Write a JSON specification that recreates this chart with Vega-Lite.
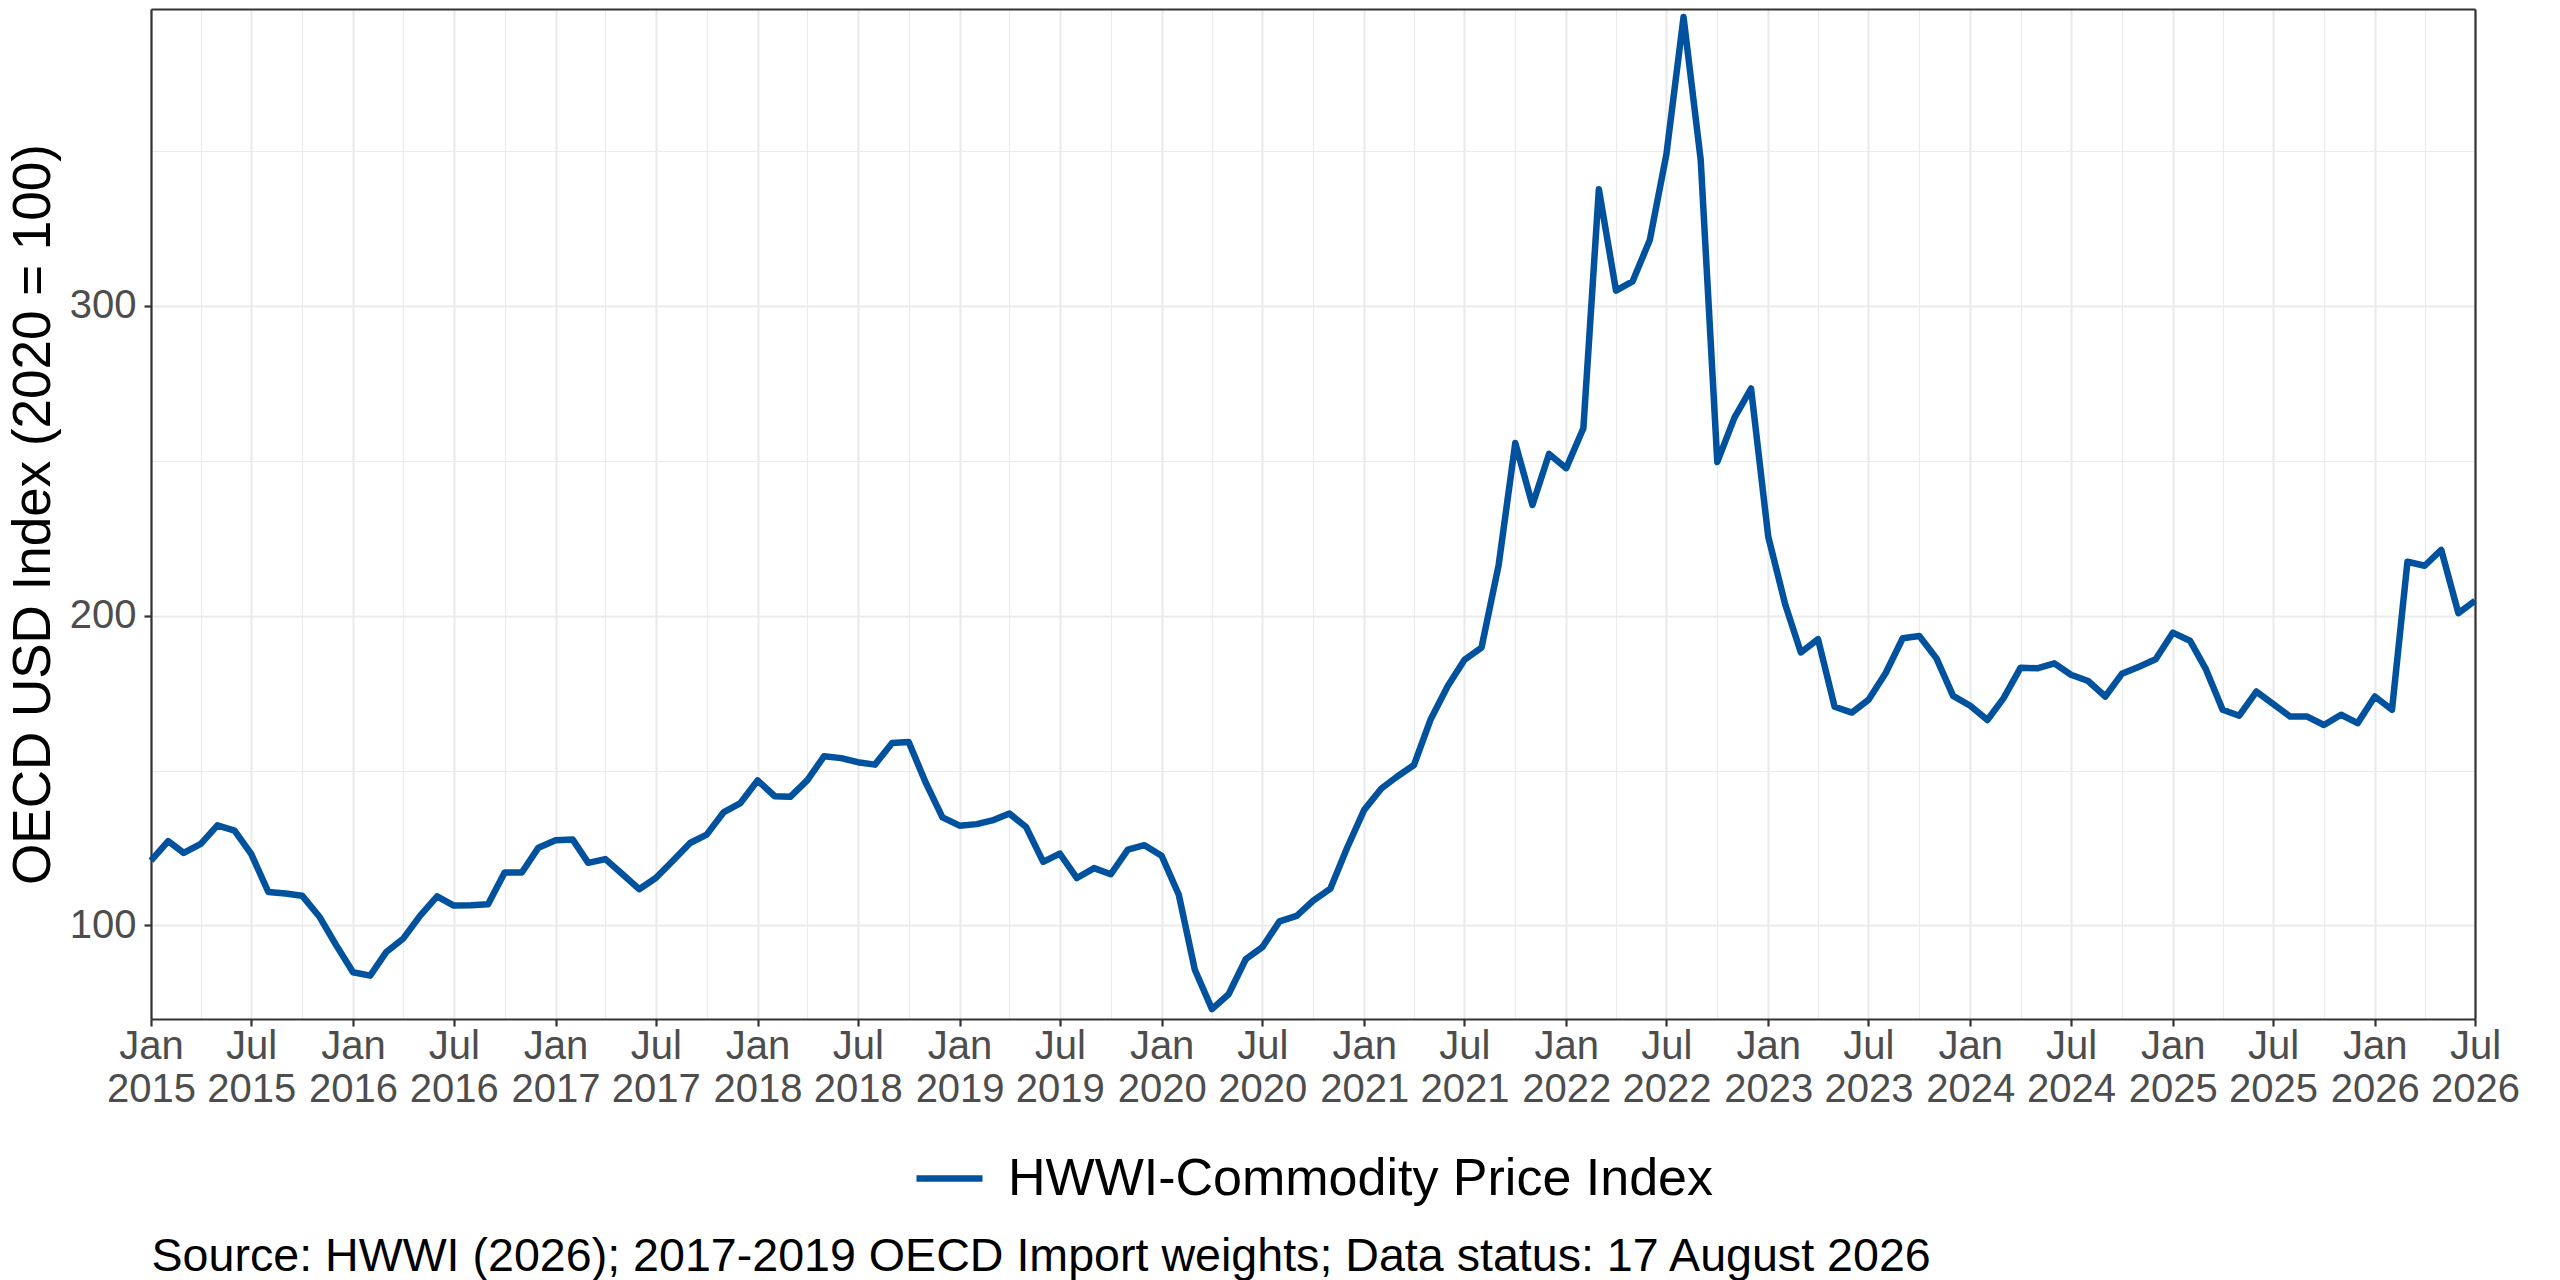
{
  "$schema": "https://vega.github.io/schema/vega-lite/v6.json",
  "width": 2324,
  "height": 1010,
  "autosize": {"type": "none"},
  "padding": {"left": 151, "top": 9, "right": 85, "bottom": 261},
  "background": "white",
  "config": {
    "view": {"stroke": null},
    "font": "Liberation Sans"
  },
  "data": {
    "values": [
      {"date": "2015-01-01", "value": 120.9}, {"date": "2015-02-01", "value": 127.2}, {"date": "2015-03-01", "value": 123.4},
      {"date": "2015-04-01", "value": 126.3}, {"date": "2015-05-01", "value": 132.3}, {"date": "2015-06-01", "value": 130.6},
      {"date": "2015-07-01", "value": 123.1}, {"date": "2015-08-01", "value": 110.8}, {"date": "2015-09-01", "value": 110.3},
      {"date": "2015-10-01", "value": 109.6}, {"date": "2015-11-01", "value": 102.9}, {"date": "2015-12-01", "value": 93.8},
      {"date": "2016-01-01", "value": 84.9}, {"date": "2016-02-01", "value": 83.8}, {"date": "2016-03-01", "value": 91.4},
      {"date": "2016-04-01", "value": 95.8}, {"date": "2016-05-01", "value": 103.1}, {"date": "2016-06-01", "value": 109.4},
      {"date": "2016-07-01", "value": 106.4}, {"date": "2016-08-01", "value": 106.5}, {"date": "2016-09-01", "value": 106.8},
      {"date": "2016-10-01", "value": 117.1}, {"date": "2016-11-01", "value": 117.1}, {"date": "2016-12-01", "value": 125.1},
      {"date": "2017-01-01", "value": 127.5}, {"date": "2017-02-01", "value": 127.7}, {"date": "2017-03-01", "value": 120.2},
      {"date": "2017-04-01", "value": 121.4}, {"date": "2017-05-01", "value": 116.7}, {"date": "2017-06-01", "value": 111.7},
      {"date": "2017-07-01", "value": 115.3}, {"date": "2017-08-01", "value": 120.9}, {"date": "2017-09-01", "value": 126.6},
      {"date": "2017-10-01", "value": 129.3}, {"date": "2017-11-01", "value": 136.6}, {"date": "2017-12-01", "value": 139.5},
      {"date": "2018-01-01", "value": 146.8}, {"date": "2018-02-01", "value": 141.7}, {"date": "2018-03-01", "value": 141.5},
      {"date": "2018-04-01", "value": 146.9}, {"date": "2018-05-01", "value": 154.6}, {"date": "2018-06-01", "value": 154.0},
      {"date": "2018-07-01", "value": 152.7}, {"date": "2018-08-01", "value": 151.9}, {"date": "2018-09-01", "value": 158.9},
      {"date": "2018-10-01", "value": 159.2}, {"date": "2018-11-01", "value": 146.0}, {"date": "2018-12-01", "value": 134.9},
      {"date": "2019-01-01", "value": 132.2}, {"date": "2019-02-01", "value": 132.7}, {"date": "2019-03-01", "value": 133.9},
      {"date": "2019-04-01", "value": 136.1}, {"date": "2019-05-01", "value": 131.8}, {"date": "2019-06-01", "value": 120.5},
      {"date": "2019-07-01", "value": 123.2}, {"date": "2019-08-01", "value": 115.3}, {"date": "2019-09-01", "value": 118.5},
      {"date": "2019-10-01", "value": 116.5}, {"date": "2019-11-01", "value": 124.5}, {"date": "2019-12-01", "value": 125.9},
      {"date": "2020-01-01", "value": 122.5}, {"date": "2020-02-01", "value": 109.9}, {"date": "2020-03-01", "value": 85.7},
      {"date": "2020-04-01", "value": 73.0}, {"date": "2020-05-01", "value": 77.8}, {"date": "2020-06-01", "value": 89.1},
      {"date": "2020-07-01", "value": 93.0}, {"date": "2020-08-01", "value": 101.3}, {"date": "2020-09-01", "value": 103.1},
      {"date": "2020-10-01", "value": 108.0}, {"date": "2020-11-01", "value": 111.9}, {"date": "2020-12-01", "value": 125.0},
      {"date": "2021-01-01", "value": 137.3}, {"date": "2021-02-01", "value": 144.2}, {"date": "2021-03-01", "value": 148.0},
      {"date": "2021-04-01", "value": 151.8}, {"date": "2021-05-01", "value": 166.5}, {"date": "2021-06-01", "value": 177.3},
      {"date": "2021-07-01", "value": 185.7}, {"date": "2021-08-01", "value": 189.7}, {"date": "2021-09-01", "value": 216.4},
      {"date": "2021-10-01", "value": 255.7}, {"date": "2021-11-01", "value": 235.7}, {"date": "2021-12-01", "value": 252.2},
      {"date": "2022-01-01", "value": 247.6}, {"date": "2022-02-01", "value": 260.5}, {"date": "2022-03-01", "value": 337.6},
      {"date": "2022-04-01", "value": 304.9}, {"date": "2022-05-01", "value": 307.9}, {"date": "2022-06-01", "value": 321.2},
      {"date": "2022-07-01", "value": 348.9}, {"date": "2022-08-01", "value": 393.2}, {"date": "2022-09-01", "value": 347.1},
      {"date": "2022-10-01", "value": 249.6}, {"date": "2022-11-01", "value": 263.9}, {"date": "2022-12-01", "value": 273.3},
      {"date": "2023-01-01", "value": 225.5}, {"date": "2023-02-01", "value": 203.4}, {"date": "2023-03-01", "value": 188.1},
      {"date": "2023-04-01", "value": 192.4}, {"date": "2023-05-01", "value": 170.6}, {"date": "2023-06-01", "value": 168.7},
      {"date": "2023-07-01", "value": 172.8}, {"date": "2023-08-01", "value": 181.4}, {"date": "2023-09-01", "value": 192.7},
      {"date": "2023-10-01", "value": 193.4}, {"date": "2023-11-01", "value": 186.2}, {"date": "2023-12-01", "value": 174.1},
      {"date": "2024-01-01", "value": 170.9}, {"date": "2024-02-01", "value": 166.3}, {"date": "2024-03-01", "value": 173.3},
      {"date": "2024-04-01", "value": 183.2}, {"date": "2024-05-01", "value": 183.0}, {"date": "2024-06-01", "value": 184.6},
      {"date": "2024-07-01", "value": 180.9}, {"date": "2024-08-01", "value": 178.9}, {"date": "2024-09-01", "value": 173.9},
      {"date": "2024-10-01", "value": 181.2}, {"date": "2024-11-01", "value": 183.5}, {"date": "2024-12-01", "value": 185.9},
      {"date": "2025-01-01", "value": 194.5}, {"date": "2025-02-01", "value": 191.9}, {"date": "2025-03-01", "value": 183.0},
      {"date": "2025-04-01", "value": 169.6}, {"date": "2025-05-01", "value": 167.7}, {"date": "2025-06-01", "value": 175.5},
      {"date": "2025-07-01", "value": 171.5}, {"date": "2025-08-01", "value": 167.4}, {"date": "2025-09-01", "value": 167.4},
      {"date": "2025-10-01", "value": 164.7}, {"date": "2025-11-01", "value": 168.0}, {"date": "2025-12-01", "value": 165.3},
      {"date": "2026-01-01", "value": 173.9}, {"date": "2026-02-01", "value": 169.6}, {"date": "2026-03-01", "value": 217.4},
      {"date": "2026-04-01", "value": 216.1}, {"date": "2026-05-01", "value": 221.2}, {"date": "2026-06-01", "value": 200.8},
      {"date": "2026-07-01", "value": 204.8}
    ]
  },
  "resolve": {"axis": {"x": "independent", "y": "independent"}},
  "layer": [
    {
      "mark": {"type": "line", "strokeWidth": 6.5, "strokeJoin": "round", "strokeCap": "butt"},
      "encoding": {
        "x": {
          "field": "date",
          "type": "temporal",
          "scale": {
            "type": "utc",
            "nice": false,
            "domain": [
              {"year": 2015, "month": 1, "date": 1, "utc": true},
              {"year": 2026, "month": 7, "date": 1, "utc": true}
            ]
          },
          "axis": {
            "orient": "bottom",
            "values": [
              {"year": 2015, "month": 1, "date": 1, "utc": true}, {"year": 2015, "month": 7, "date": 1, "utc": true},
              {"year": 2016, "month": 1, "date": 1, "utc": true}, {"year": 2016, "month": 7, "date": 1, "utc": true},
              {"year": 2017, "month": 1, "date": 1, "utc": true}, {"year": 2017, "month": 7, "date": 1, "utc": true},
              {"year": 2018, "month": 1, "date": 1, "utc": true}, {"year": 2018, "month": 7, "date": 1, "utc": true},
              {"year": 2019, "month": 1, "date": 1, "utc": true}, {"year": 2019, "month": 7, "date": 1, "utc": true},
              {"year": 2020, "month": 1, "date": 1, "utc": true}, {"year": 2020, "month": 7, "date": 1, "utc": true},
              {"year": 2021, "month": 1, "date": 1, "utc": true}, {"year": 2021, "month": 7, "date": 1, "utc": true},
              {"year": 2022, "month": 1, "date": 1, "utc": true}, {"year": 2022, "month": 7, "date": 1, "utc": true},
              {"year": 2023, "month": 1, "date": 1, "utc": true}, {"year": 2023, "month": 7, "date": 1, "utc": true},
              {"year": 2024, "month": 1, "date": 1, "utc": true}, {"year": 2024, "month": 7, "date": 1, "utc": true},
              {"year": 2025, "month": 1, "date": 1, "utc": true}, {"year": 2025, "month": 7, "date": 1, "utc": true},
              {"year": 2026, "month": 1, "date": 1, "utc": true}, {"year": 2026, "month": 7, "date": 1, "utc": true}
            ],
            "labelExpr": "[utcFormat(datum.value, '%b'), utcFormat(datum.value, '%Y')]",
            "labelFontSize": 40,
            "labelColor": "#4D4D4D",
            "labelLineHeight": 43,
            "labelPadding": 0,
            "labelAngle": 0,
            "labelAlign": "center",
            "labelBaseline": "top",
            "labelFlush": false,
            "labelOverlap": false,
            "grid": true,
            "gridColor": "#EBEBEB",
            "gridWidth": 2.2,
            "ticks": true,
            "tickSize": 7,
            "tickColor": "#333333",
            "tickWidth": 2.2,
            "domain": true,
            "domainColor": "#333333",
            "domainWidth": 2.2,
            "title": "Source: HWWI (2026); 2017-2019 OECD Import weights; Data status: 17 August 2026",
            "titleFontSize": 46.6,
            "titleFontWeight": "normal",
            "titleColor": "#000000",
            "titleX": 0,
            "titleY": 251,
            "titleAlign": "left",
            "titleAnchor": "start",
            "titleBaseline": "alphabetic"
          }
        },
        "y": {
          "field": "value",
          "type": "quantitative",
          "scale": {"domain": [69.8, 395.8], "nice": false, "zero": false},
          "axis": {
            "orient": "left",
            "values": [100, 200, 300],
            "labelFontSize": 40,
            "labelColor": "#4D4D4D",
            "labelPadding": 8,
            "grid": true,
            "gridColor": "#EBEBEB",
            "gridWidth": 2.2,
            "tickSize": 7,
            "tickColor": "#333333",
            "tickWidth": 2.2,
            "domain": true,
            "domainColor": "#333333",
            "domainWidth": 2.2,
            "title": "OECD USD Index (2020 = 100)",
            "titleFontSize": 53,
            "titleFontWeight": "normal",
            "titleColor": "#000000",
            "titleAngle": -90,
            "titleX": -102,
            "titleY": 505,
            "titleAlign": "center",
            "titleBaseline": "alphabetic"
          }
        },
        "color": {
          "datum": "HWWI-Commodity Price Index",
          "type": "nominal",
          "scale": {"range": ["#00519E"]},
          "legend": {
            "orient": "none",
            "legendX": 762,
            "legendY": 1133,
            "title": null,
            "padding": 0,
            "symbolType": "stroke",
            "symbolSize": 4356,
            "symbolStrokeWidth": 6.5,
            "labelFontSize": 52,
            "labelColor": "#000000",
            "labelOffset": 22,
            "labelLimit": 2000
          }
        }
      }
    },
    {
      "mark": {"type": "line", "opacity": 0},
      "encoding": {
        "x": {
          "field": "date",
          "type": "temporal",
          "axis": {
            "orient": "top",
            "values": [
              {"year": 2015, "month": 4, "date": 1, "utc": true}, {"year": 2015, "month": 10, "date": 1, "utc": true},
              {"year": 2016, "month": 4, "date": 1, "utc": true}, {"year": 2016, "month": 10, "date": 1, "utc": true},
              {"year": 2017, "month": 4, "date": 1, "utc": true}, {"year": 2017, "month": 10, "date": 1, "utc": true},
              {"year": 2018, "month": 4, "date": 1, "utc": true}, {"year": 2018, "month": 10, "date": 1, "utc": true},
              {"year": 2019, "month": 4, "date": 1, "utc": true}, {"year": 2019, "month": 10, "date": 1, "utc": true},
              {"year": 2020, "month": 4, "date": 1, "utc": true}, {"year": 2020, "month": 10, "date": 1, "utc": true},
              {"year": 2021, "month": 4, "date": 1, "utc": true}, {"year": 2021, "month": 10, "date": 1, "utc": true},
              {"year": 2022, "month": 4, "date": 1, "utc": true}, {"year": 2022, "month": 10, "date": 1, "utc": true},
              {"year": 2023, "month": 4, "date": 1, "utc": true}, {"year": 2023, "month": 10, "date": 1, "utc": true},
              {"year": 2024, "month": 4, "date": 1, "utc": true}, {"year": 2024, "month": 10, "date": 1, "utc": true},
              {"year": 2025, "month": 4, "date": 1, "utc": true}, {"year": 2025, "month": 10, "date": 1, "utc": true},
              {"year": 2026, "month": 4, "date": 1, "utc": true}
            ],
            "grid": true,
            "gridColor": "#EBEBEB",
            "gridWidth": 1.1,
            "ticks": false,
            "labels": false,
            "domain": true,
            "domainColor": "#333333",
            "domainWidth": 2.2,
            "title": null
          }
        },
        "y": {
          "field": "value",
          "type": "quantitative",
          "axis": {
            "orient": "right",
            "values": [150, 250, 350],
            "grid": true,
            "gridColor": "#EBEBEB",
            "gridWidth": 1.1,
            "ticks": false,
            "labels": false,
            "domain": true,
            "domainColor": "#333333",
            "domainWidth": 2.2,
            "title": null
          }
        }
      }
    }
  ]
}
